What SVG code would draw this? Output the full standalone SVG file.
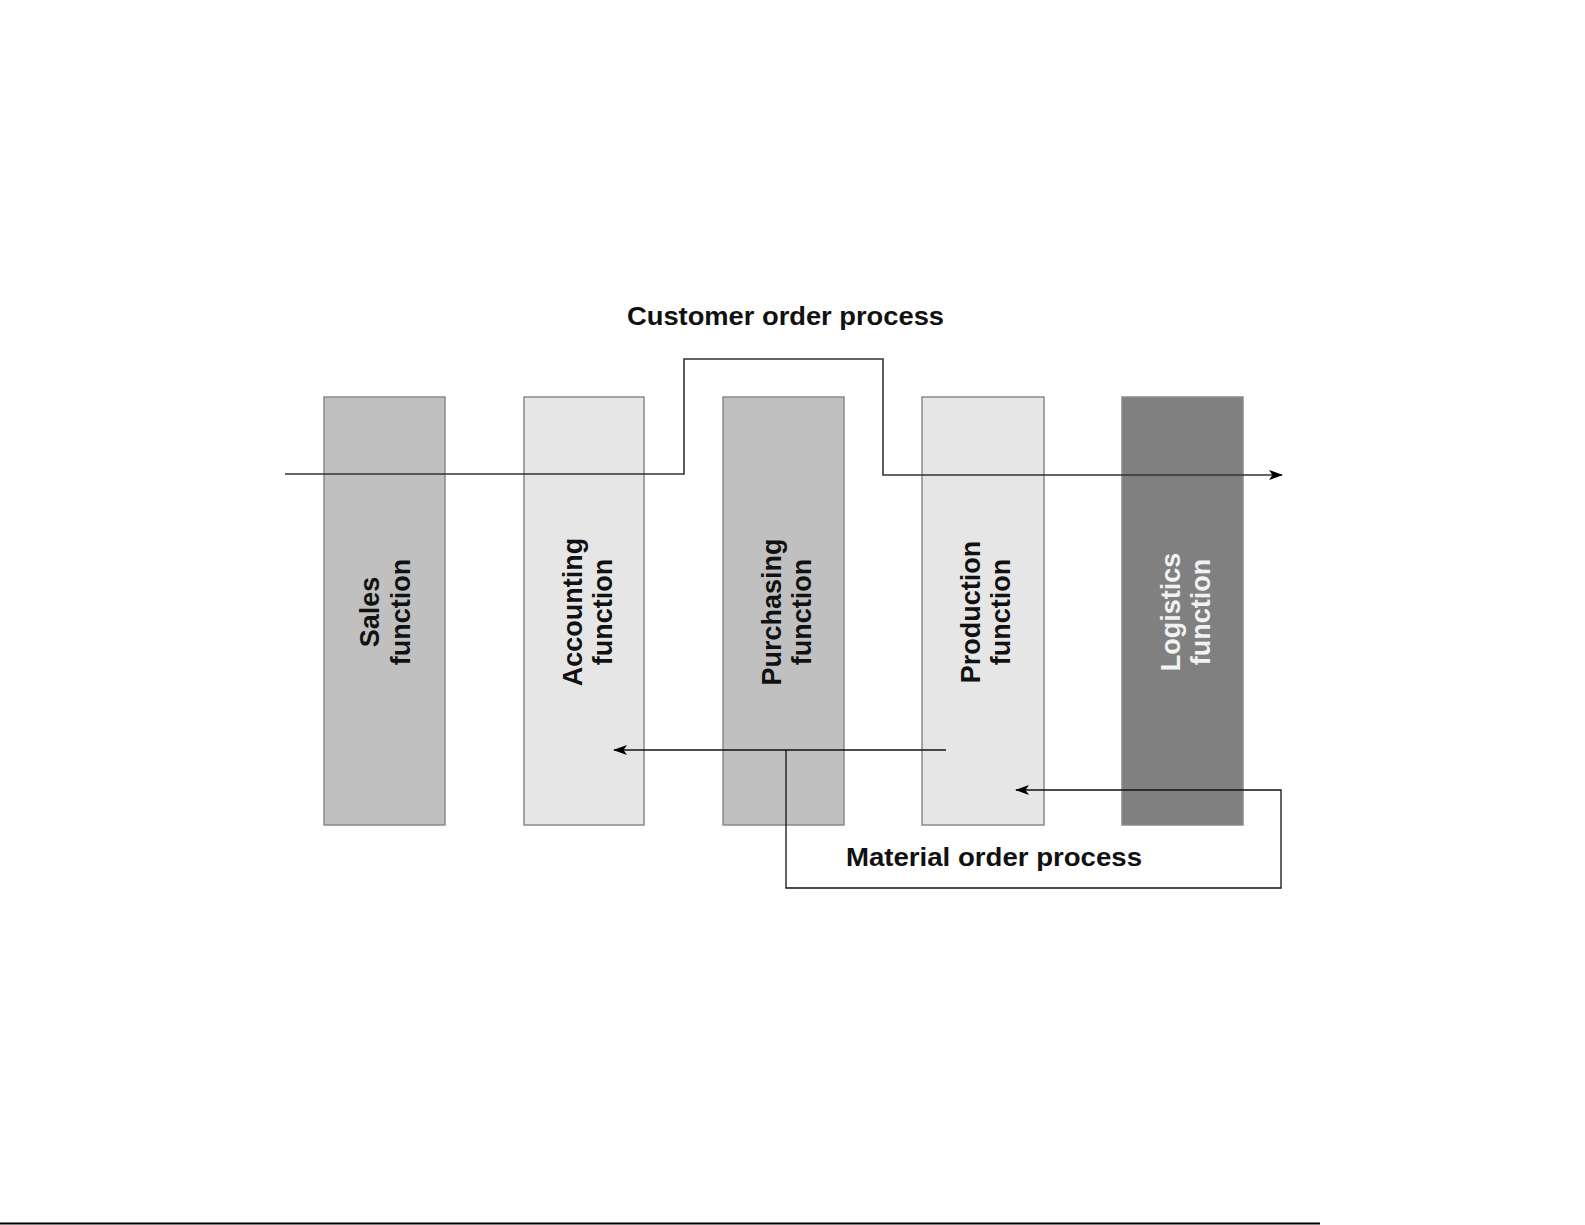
<svg xmlns="http://www.w3.org/2000/svg" width="1585" height="1225" viewBox="0 0 1585 1225">
<style>
.box{stroke:#8a8a8a;stroke-width:1.5}
.lbl{font-family:"Liberation Sans",Arial,sans-serif;font-weight:bold;font-size:27px;fill:#111;text-anchor:middle}
.ttl{font-family:"Liberation Sans",Arial,sans-serif;font-weight:bold;font-size:26px;fill:#111}
.ln{fill:none;stroke:#333;stroke-width:1.6}
</style>
<defs>
<marker id="ah" viewBox="0 0 14 10" refX="13" refY="5" markerWidth="14" markerHeight="10" markerUnits="userSpaceOnUse" orient="auto">
<path d="M0,0 L14,5 L0,10 L3.5,5 Z" fill="#000"/>
</marker>
</defs>
<rect width="1585" height="1225" fill="#fff"/>
<g id="sales">
<rect class="box" x="324" y="397" width="121" height="428" fill="#c0c0c0"/>
<text class="lbl" transform="translate(379,612) rotate(-90)">Sales</text>
<text class="lbl" transform="translate(410,612) rotate(-90)">function</text>
</g>
<g id="accounting">
<rect class="box" x="524" y="397" width="120" height="428" fill="#e6e6e6"/>
<text class="lbl" transform="translate(582,612) rotate(-90)">Accounting</text>
<text class="lbl" transform="translate(612,612) rotate(-90)">function</text>
</g>
<g id="purchasing">
<rect class="box" x="723" y="397" width="121" height="428" fill="#c0c0c0"/>
<text class="lbl" transform="translate(781,612) rotate(-90)">Purchasing</text>
<text class="lbl" transform="translate(811,612) rotate(-90)">function</text>
</g>
<g id="production">
<rect class="box" x="922" y="397" width="122" height="428" fill="#e6e6e6"/>
<text class="lbl" transform="translate(980,612) rotate(-90)">Production</text>
<text class="lbl" transform="translate(1010,612) rotate(-90)">function</text>
</g>
<g id="logistics">
<rect class="box" x="1122" y="397" width="121" height="428" fill="#808080" stroke="#666"/>
<text class="lbl" style="fill:#f2f2f2" transform="translate(1180,612) rotate(-90)">Logistics</text>
<text class="lbl" style="fill:#f2f2f2" transform="translate(1210,612) rotate(-90)">function</text>
</g>
<g id="labels">
<text class="ttl" x="627" y="325" textLength="317" lengthAdjust="spacingAndGlyphs">Customer order process</text>
<text class="ttl" x="846" y="866" textLength="296" lengthAdjust="spacingAndGlyphs">Material order process</text>
</g>
<g id="connectors">
<path class="ln" d="M285,474 H684 V359 H883 V475 H1282" marker-end="url(#ah)"/>
<path class="ln" d="M946,750 H614" marker-end="url(#ah)" style="stroke:#111;stroke-width:1.3"/>
<path class="ln" d="M786,750 V888 H1281 V790 H1016" marker-end="url(#ah)" style="stroke:#111;stroke-width:1.3"/>
</g>
<line x1="0" y1="1223.5" x2="1320" y2="1223.5" stroke="#000" stroke-width="2"/>
</svg>
